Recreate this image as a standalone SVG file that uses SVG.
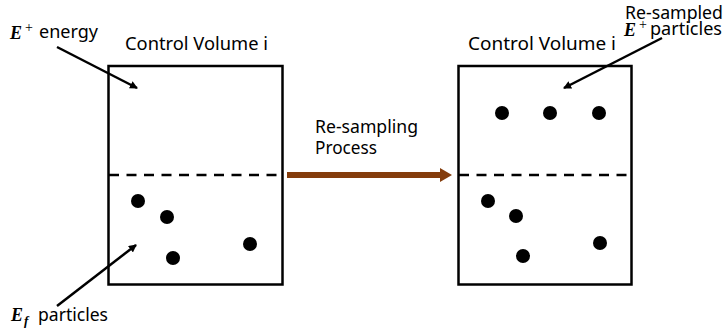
<svg xmlns="http://www.w3.org/2000/svg" width="727" height="336" viewBox="0 0 727 336">
<style>
.box{fill:none;stroke:#000;stroke-width:2.5}
.dash{stroke:#000;stroke-width:2.5;stroke-dasharray:10 7.5}
.dot{fill:#000}
.lbl{font-family:"Noto Sans","Liberation Sans",Arial,sans-serif;font-size:17.5px;fill:#000}
.math{font-family:"Liberation Serif","Times New Roman",serif;font-style:italic;font-weight:bold;font-size:18px;fill:#000}
.sup{font-family:"Liberation Serif","Times New Roman",serif;font-size:14px;fill:#000}
.ptr{stroke:#000;stroke-width:2.5;fill:none;marker-end:url(#ah)}
</style>
<defs>
<marker id="ah" markerWidth="8" markerHeight="8" refX="7" refY="4" orient="auto" markerUnits="userSpaceOnUse" viewBox="0 0 8 8">
<path d="M0,0 L8,4 L0,8 Z" fill="#000"/>
</marker>
<marker id="bh" markerWidth="12" markerHeight="14" refX="1" refY="7" orient="auto" markerUnits="userSpaceOnUse" viewBox="0 0 12 14">
<path d="M0,0 L12,7 L0,14 Z" fill="#843C0C"/>
</marker>
</defs>
<g id="cv-left">
<rect class="box" x="108.5" y="66" width="174" height="218.5"/>
<line class="dash" x1="109" y1="175" x2="282" y2="175"/>
<text class="lbl" x="125" y="50" textLength="143" lengthAdjust="spacingAndGlyphs">Control Volume i</text>
<circle class="dot" cx="138" cy="201" r="7"/>
<circle class="dot" cx="167" cy="217" r="7"/>
<circle class="dot" cx="173" cy="258" r="7"/>
<circle class="dot" cx="250" cy="244" r="7"/>
</g>
<g id="cv-right">
<rect class="box" x="458.5" y="66" width="173" height="218.5"/>
<line class="dash" x1="459" y1="175" x2="631" y2="175"/>
<text class="lbl" x="468" y="50" textLength="148" lengthAdjust="spacingAndGlyphs">Control Volume i</text>
<circle class="dot" cx="502" cy="113" r="7"/>
<circle class="dot" cx="550" cy="113" r="7"/>
<circle class="dot" cx="599" cy="113" r="7"/>
<circle class="dot" cx="488" cy="201" r="7"/>
<circle class="dot" cx="516" cy="216" r="7"/>
<circle class="dot" cx="523" cy="256" r="7"/>
<circle class="dot" cx="600" cy="243" r="7"/>
</g>
<g id="label-energy">
<text class="math" x="10" y="39">E</text>
<text class="sup" x="25" y="32">+</text>
<text class="lbl" x="39" y="38" textLength="59" lengthAdjust="spacingAndGlyphs">energy</text>
</g>
<g id="label-ef">
<text class="math" x="11" y="321">E</text>
<text class="math" x="24" y="325" style="font-size:13px">f</text>
<text class="lbl" x="38" y="321" textLength="70" lengthAdjust="spacingAndGlyphs">particles</text>
</g>
<g id="label-resampled">
<text class="lbl" x="625" y="19" textLength="98" lengthAdjust="spacingAndGlyphs">Re-sampled</text>
<text class="math" x="624" y="36">E</text>
<text class="sup" x="639" y="29">+</text>
<text class="lbl" x="650" y="35" textLength="72" lengthAdjust="spacingAndGlyphs">particles</text>
</g>
<g id="label-process">
<text class="lbl" x="315" y="133" textLength="103" lengthAdjust="spacingAndGlyphs">Re-sampling</text>
<text class="lbl" x="315" y="154" textLength="62" lengthAdjust="spacingAndGlyphs">Process</text>
</g>
<g id="connectors">
<line class="ptr" x1="57" y1="47" x2="137" y2="88"/>
<line class="ptr" x1="57" y1="306" x2="136" y2="245"/>
<line class="ptr" x1="662" y1="38" x2="564" y2="88"/>
<line x1="287" y1="175" x2="441" y2="175" stroke="#843C0C" stroke-width="6" marker-end="url(#bh)"/>
</g>
</svg>
